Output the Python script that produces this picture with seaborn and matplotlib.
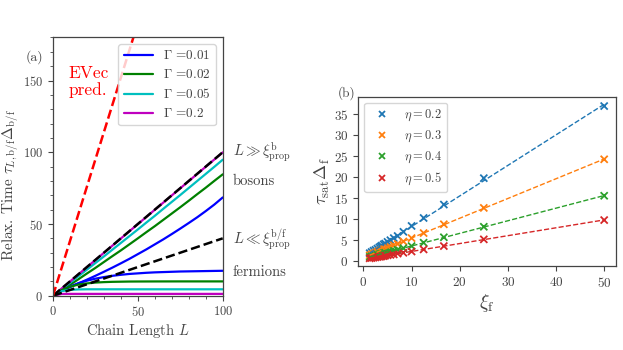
import numpy as np
import pandas as pd
import seaborn as sns
import matplotlib.pyplot as plt
from matplotlib.ticker import MultipleLocator

# --- panel (a): relaxation time vs chain length ---
L_vals = [0, 5, 10, 15, 20, 25, 30, 35, 40, 45, 50, 55, 60, 65, 70, 75, 80, 85, 90, 95, 100]
gammas = ['0.01', '0.02', '0.05', '0.2']
gamma_colors = ['blue', 'green', 'c', 'm']

# bosons (upper branch)
boson_001 = [0, 3.2, 6.0, 8.6, 11.2, 13.9, 16.7, 19.6, 22.6, 25.7, 29.0, 32.3, 35.8, 39.3, 43.0, 46.8, 50.7, 54.7, 59.0, 63.5, 68.5]
boson_002 = [0, 3.8, 7.6, 11.5, 15.5, 19.4, 23.5, 27.6, 31.6, 35.8, 40.0, 44.3, 48.5, 52.9, 57.3, 61.7, 66.2, 70.8, 75.3, 80.0, 84.6]
boson_005 = [0, 4.5, 9.05, 13.6, 18.2, 22.8, 27.4, 32.1, 36.8, 41.5, 46.2, 51.0, 55.7, 60.6, 65.4, 70.2, 75.1, 80.0, 84.9, 89.8, 94.8]
boson_02 = [0, 4.9, 9.9, 14.9, 19.9, 24.9, 29.9, 34.9, 39.9, 44.9, 49.9, 54.9, 59.9, 64.9, 69.9, 74.9, 79.9, 84.9, 89.9, 94.9, 99.9]
# fermions (lower branch, saturating)
fermion_001 = [0, 3.5, 6.4, 8.7, 10.5, 11.9, 13.0, 13.9, 14.6, 15.2, 15.6, 16.0, 16.3, 16.5, 16.7, 16.9, 17.0, 17.1, 17.2, 17.3, 17.4]
fermion_002 = [0, 3.9, 6.3, 7.8, 8.6, 9.2, 9.5, 9.7, 9.8, 9.9, 9.93, 9.95, 9.97, 9.98, 9.99, 10.0, 10.0, 10.0, 10.0, 10.0, 10.0]
fermion_005 = [0, 3.2, 4.1, 4.4, 4.5, 4.5, 4.5, 4.5, 4.5, 4.5, 4.5, 4.5, 4.5, 4.5, 4.5, 4.5, 4.5, 4.5, 4.5, 4.5, 4.5]
fermion_02 = [0, 1.25, 1.3, 1.3, 1.3, 1.3, 1.3, 1.3, 1.3, 1.3, 1.3, 1.3, 1.3, 1.3, 1.3, 1.3, 1.3, 1.3, 1.3, 1.3, 1.3]

guide_L = [0, 100]
guide_boson = [0, 100]     # L >> xi_prop^b
guide_fermion = [0, 40]    # L << xi_prop^b/f
evec_pred = [0, 380]

# --- panel (b): saturation time vs xi_f ---
xi_f = [50, 25, 16.7, 12.5, 10, 8.3, 7.1, 6.3, 5.6, 5.0, 4.5, 4.2, 3.8, 3.6, 3.3, 2.9, 2.5, 2.1, 1.7, 1.3]
etas = ['0.2', '0.3', '0.4', '0.5']
tau_eta02 = [37.0, 19.8, 13.5, 10.3, 8.4, 7.0, 6.0, 5.5, 5.0, 4.6, 4.2, 4.0, 3.7, 3.5, 3.3, 3.0, 2.7, 2.5, 2.2, 1.9]
tau_eta03 = [24.3, 12.7, 8.8, 6.7, 5.5, 4.7, 4.1, 3.8, 3.4, 3.2, 2.9, 2.8, 2.6, 2.5, 2.4, 2.2, 2.0, 1.8, 1.6, 1.4]
tau_eta04 = [15.6, 8.2, 5.7, 4.4, 3.6, 3.1, 2.7, 2.5, 2.3, 2.1, 2.0, 1.9, 1.75, 1.7, 1.6, 1.5, 1.35, 1.2, 1.1, 1.0]
tau_eta05 = [9.8, 5.2, 3.6, 2.8, 2.3, 2.0, 1.8, 1.6, 1.5, 1.4, 1.3, 1.2, 1.15, 1.1, 1.05, 0.98, 0.9, 0.83, 0.75, 0.68]

sns.set_style('ticks')
gray = '#444444'
plt.rcParams.update({
    'font.family': 'serif',
    'font.serif': ['cmr10'],
    'mathtext.fontset': 'cm',
    'axes.formatter.use_mathtext': True,
    'axes.unicode_minus': False,
    'text.color': gray,
    'axes.labelcolor': gray,
    'axes.edgecolor': gray,
    'xtick.color': gray,
    'ytick.color': gray,
    'axes.linewidth': 0.9,
})

df_b = pd.DataFrame({'L': L_vals * 4,
                     'tau': boson_001 + boson_002 + boson_005 + boson_02,
                     'Gamma': np.repeat(gammas, len(L_vals))})
df_f = pd.DataFrame({'L': L_vals * 4,
                     'tau': fermion_001 + fermion_002 + fermion_005 + fermion_02,
                     'Gamma': np.repeat(gammas, len(L_vals))})

fig = plt.figure(figsize=(6.23, 3.5), dpi=100)
ax1 = fig.add_axes([0.085, 0.155, 0.2725, 0.738])
ax2 = fig.add_axes([0.5746, 0.24, 0.414, 0.484])

pal = dict(zip(gammas, gamma_colors))
sns.lineplot(data=df_b, x='L', y='tau', hue='Gamma', palette=pal, lw=1.6, ax=ax1, legend=False)
sns.lineplot(data=df_f, x='L', y='tau', hue='Gamma', palette=pal, lw=1.6, ax=ax1, legend=False)
sns.lineplot(x=guide_L, y=guide_boson, color='k', ls='--', lw=1.8, ax=ax1)
sns.lineplot(x=guide_L, y=guide_fermion, color='k', ls='--', lw=1.8, ax=ax1)
sns.lineplot(x=guide_L, y=evec_pred, color='red', ls='--', lw=1.8, ax=ax1)

handles = [plt.Line2D([], [], color=c, lw=1.6) for c in gamma_colors]
ax1.legend(handles, [r'$\Gamma$ =' + g for g in gammas], loc='upper right',
           fontsize=9.5, handlelength=2.2, labelspacing=0.45, borderaxespad=0.5,
           framealpha=0.8)

ax1.set_xlim(0, 100)
ax1.set_ylim(0, 180)
ax1.set_xticks([0, 50, 100])
ax1.set_yticks([0, 50, 100, 150])
ax1.xaxis.set_minor_locator(MultipleLocator(10))
ax1.yaxis.set_minor_locator(MultipleLocator(10))
ax1.tick_params(labelsize=9)
ax1.set_xlabel(r'Chain Length $L$', fontsize=10.5, labelpad=2)
ax1.set_ylabel(r'Relax. Time $\tau_{L,\mathrm{b/f}}\Delta_{\mathrm{b/f}}$', fontsize=11)
ax1.yaxis.set_label_coords(-0.19, 0.43)
ax1.text(-0.16, 0.925, '(a)', transform=ax1.transAxes, fontsize=10, va='center')
ax1.text(9, 149, 'EVec\npred.', color='red', fontsize=12.5, linespacing=1.05, va='center')
for y, s in [(100, r'$L \gg \xi^{\mathrm{b}}_{\mathrm{prop}}$'), (80, 'bosons'),
             (39, r'$L \ll \xi^{\mathrm{b/f}}_{\mathrm{prop}}$'), (16.6, 'fermions')]:
    ax1.text(106, y, s, fontsize=10.5, va='center', clip_on=False)

# panel (b)
df_s = pd.DataFrame({'xi': xi_f * 4,
                     'tau': tau_eta02 + tau_eta03 + tau_eta04 + tau_eta05,
                     'eta': np.repeat(etas, len(xi_f))})
tab = sns.color_palette('tab10', 4)
for eta, col in zip(etas, tab):
    sub = df_s[df_s['eta'] == eta]
    k, b = np.polyfit(sub['xi'], sub['tau'], 1)
    xs = np.array([sub['xi'].min(), sub['xi'].max()])
    ax2.plot(xs, k * xs + b, ls='--', color=col, lw=1.0)
sns.scatterplot(data=df_s, x='xi', y='tau', hue='eta', palette=tab, marker='x',
                s=26, linewidth=1.3, ax=ax2)
h, l = ax2.get_legend_handles_labels()
ax2.legend(h, [r'$\eta = %s$' % e for e in etas], loc='upper left', fontsize=9,
           labelspacing=0.45, framealpha=0.8, handletextpad=0.8, markerscale=0.75)
ax2.set_xticks(range(0, 51, 10))
ax2.set_yticks(range(0, 36, 5))
ax2.tick_params(labelsize=9.5)
ax2.set_xlabel(r'$\xi_{\mathrm{f}}$', fontsize=14, labelpad=2)
ax2.set_ylabel(r'$\tau_{\mathrm{sat}}\Delta_{\mathrm{f}}$', fontsize=13)
ax2.yaxis.set_label_coords(-0.1, 0.5)
ax2.text(-0.08, 1.02, '(b)', transform=ax2.transAxes, fontsize=9.5, va='center')

fig.savefig('out.png', dpi=100)
